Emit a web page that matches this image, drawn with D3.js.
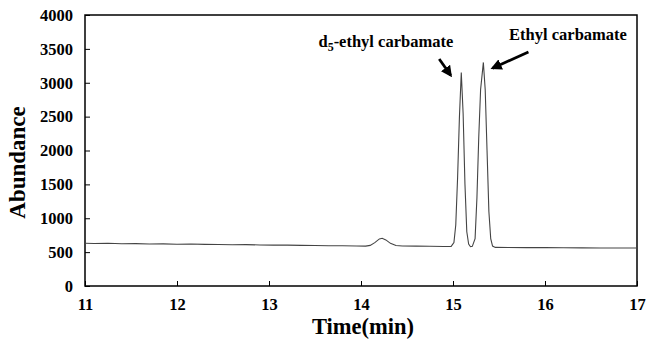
<!DOCTYPE html>
<html>
<head>
<meta charset="utf-8">
<script src="https://cdn.jsdelivr.net/npm/d3@7"></script>
<style>
  body { margin: 0; background: #fff; }
  text { font-family: "Liberation Serif", "Times New Roman", serif; font-weight: bold; fill: #000; }
</style>
</head>
<body>
<div id="chart"></div>
<script>
// chromatogram
const times = [11.00, 11.10, 11.25, 11.40, 11.55, 11.70, 11.85, 12.00, 12.15, 12.30,
  12.45, 12.60, 12.75, 12.90, 13.05, 13.20, 13.35, 13.50, 13.65, 13.80,
  13.95, 14.05, 14.10, 14.15, 14.20, 14.23, 14.27, 14.32, 14.38, 14.45,
  14.60, 14.75, 14.90, 14.98, 15.01, 15.03, 15.05, 15.07, 15.09, 15.11,
  15.13, 15.15, 15.17, 15.19, 15.21, 15.24, 15.26, 15.28, 15.30, 15.33,
  15.35, 15.37, 15.39, 15.41, 15.43, 15.46, 15.60, 15.80, 16.00, 16.20,
  16.40, 16.60, 16.80, 17.00];
const abundance = [632, 628, 630, 624, 626, 621, 622, 617, 619, 614,
  612, 609, 611, 606, 604, 603, 600, 598, 595, 593,
  590, 589, 600, 640, 695, 705, 680, 630, 598, 590,
  588, 586, 582, 584, 640, 900, 1600, 2500, 3150, 2550,
  1500, 800, 620, 580, 585, 700, 1300, 2200, 2900, 3300,
  2900, 2000, 1100, 700, 590, 570, 568, 566, 566, 564,
  563, 562, 560, 560];

const xTicks = [11, 12, 13, 14, 15, 16, 17];
const yTicks = [0, 500, 1000, 1500, 2000, 2500, 3000, 3500, 4000];

const svg = d3.select('#chart').append('svg')
    .attr('width', 646).attr('height', 341);

const margin = {top: 15, right: 9, bottom: 55, left: 85};
const width = 646 - margin.left - margin.right;
const height = 341 - margin.top - margin.bottom;

const x = d3.scaleLinear().domain([11, 17]).range([0, width]);
const y = d3.scaleLinear().domain([0, 4000]).range([height, 0]);

const g = svg.append('g')
    .attr('transform', 'translate(' + margin.left + ',' + margin.top + ')');

// inward ticks
const xAxis = d3.axisBottom(x).tickValues(xTicks).tickFormat(d3.format('d'))
    .tickSizeInner(-5).tickSizeOuter(0).tickPadding(12);
const yAxis = d3.axisLeft(y).tickValues(yTicks).tickFormat(d3.format('d'))
    .tickSizeInner(-5).tickSizeOuter(0).tickPadding(12);

const gx = g.append('g')
    .attr('transform', 'translate(0,' + height + ')')
    .call(xAxis);
const gy = g.append('g').call(yAxis);

[gx, gy].forEach(a => {
  a.select('.domain').remove();
  a.selectAll('line').attr('stroke', '#000');
  a.selectAll('text').style('font-size', '16.5px').style('font-family', '"Liberation Serif", serif')
      .style('font-weight', 'bold');
});

// plot frame
g.append('rect')
    .attr('width', width).attr('height', height)
    .attr('fill', 'none').attr('stroke', '#000').attr('stroke-width', 1.5);

const line = d3.line()
    .x((d, i) => x(times[i]))
    .y(d => y(d));

g.append('path')
    .datum(abundance)
    .attr('fill', 'none')
    .attr('stroke', '#444')
    .attr('stroke-width', 1.1)
    .attr('d', line);

// axis titles
svg.append('text')
    .attr('x', margin.left + width / 2 + 2).attr('y', 334)
    .attr('text-anchor', 'middle')
    .style('font-size', '22.5px')
    .text('Time(min)');

svg.append('text')
    .attr('transform', 'translate(25,' + (margin.top + height / 2 + 12) + ') rotate(-90)')
    .attr('text-anchor', 'middle')
    .style('font-size', '23px')
    .text('Abundance');

// annotations
const defs = svg.append('defs');
defs.append('marker')
    .attr('id', 'arrow')
    .attr('viewBox', '0 0 10 10')
    .attr('refX', 8).attr('refY', 5)
    .attr('markerWidth', 4).attr('markerHeight', 4)
    .attr('orient', 'auto')
    .append('path')
    .attr('d', 'M0,0 L10,5 L0,10 Z')
    .attr('fill', '#000');

const lab1 = g.append('text')
    .attr('x', x(14.27)).attr('y', y(3525))
    .attr('text-anchor', 'middle')
    .style('font-size', '16.5px');
lab1.append('tspan').text('d');
lab1.append('tspan').attr('dy', 4).style('font-size', '12px').text('5');
lab1.append('tspan').attr('dy', -4).text('-ethyl  carbamate');

g.append('text')
    .attr('x', x(16.25)).attr('y', y(3630))
    .attr('text-anchor', 'middle')
    .style('font-size', '16.5px')
    .text('Ethyl  carbamate');

const arrows = [
  {from: [14.85, 3350], to: [14.975, 3110]},
  {from: [15.82, 3455], to: [15.43, 3215]}
];
g.selectAll('.arrow')
    .data(arrows)
    .join('line')
    .attr('class', 'arrow')
    .attr('x1', d => x(d.from[0])).attr('y1', d => y(d.from[1]))
    .attr('x2', d => x(d.to[0])).attr('y2', d => y(d.to[1]))
    .attr('stroke', '#000')
    .attr('stroke-width', 2.8)
    .attr('marker-end', 'url(#arrow)');
</script>
</body>
</html>
